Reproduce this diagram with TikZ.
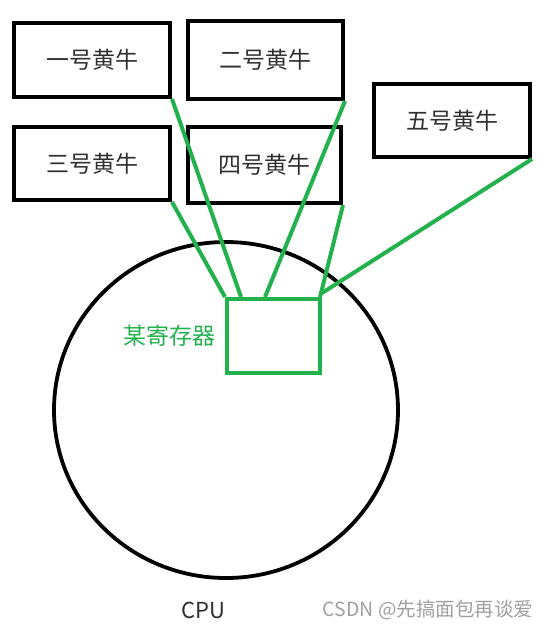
\documentclass[tikz,border=0pt]{standalone}
\usepackage{fontspec}
\setmainfont{Noto Sans CJK SC}
\usetikzlibrary{calc, positioning}
\definecolor{regreen}{HTML}{22B14C}
\definecolor{wmgray}{HTML}{A0A0A0}
\definecolor{txtgray}{HTML}{303030}

\begin{document}
\begin{tikzpicture}[x=1pt, y=-1pt,
    niubox/.style={draw, line width=4pt, inner sep=0pt, text=txtgray, font=\fontsize{23}{26}\selectfont},
    wire/.style={regreen, line width=4pt}]
            \useasboundingbox (0,0) rectangle (547,633);

            % CPU
            \draw[line width=3.8pt] (226,410) ellipse (172 and 168);
            \node[txtgray] (cpu) at (203,610) {\fontsize{22}{26}\selectfont CPU};

            % Register
            \node[draw=regreen, line width=4pt, minimum width=93pt, minimum height=74pt] (reg) at (273.5,336) {};
            \node[regreen, left=6pt of reg, font=\fontsize{23}{26}\selectfont] (reglabel) {某寄存器};

            % Scalpers
            \foreach \n/\x/\y/\w/\h/\label in {1/92/60/156/74/一号黄牛, 2/265.5/60/155/78/二号黄牛,
                3/92/163.5/156/73/三号黄牛, 4/264.5/165/153/76/四号黄牛, 5/452/120.5/156/73/五号黄牛} {
                \node[niubox, minimum width=\w pt, minimum height=\h pt] (niu\n) at (\x,\y) {\label};
            }

            % Where the wires reach the register
            \coordinate (in3) at (reg.north west);
            \coordinate (in1) at ($(reg.north west)+(16,0)$);
            \coordinate (in2) at ($(reg.north west)+(40,0)$);
            \coordinate (in4) at ($(reg.north east)+(-2,0)$);
            \coordinate (in5) at ($(reg.north east)+(0,-4)$);

            % Wires
            \foreach \n in {1,...,5} {
                \draw[wire] (niu\n.south east) -- (in\n);
            }

            % Watermark
            \node[wmgray] (mark) at (428,610) {\fontsize{19.5}{23}\selectfont CSDN @先搞面包再谈爱};
        \end{tikzpicture}
\end{document}
